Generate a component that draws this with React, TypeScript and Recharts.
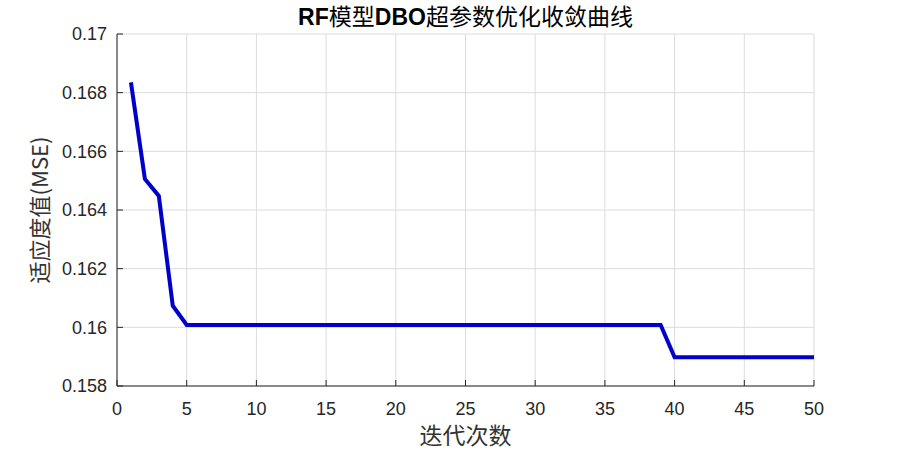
import { LineChart, Line, XAxis, YAxis, CartesianGrid } from "recharts";

// 迭代次数 1..50
const iterations = Array.from({ length: 50 }, (_, i) => i + 1);

// fitness (MSE) per iteration
const fitness = [
  0.16835, 0.16506, 0.16448, 0.16074, 0.16008, 0.16008, 0.16008, 0.16008, 0.16008, 0.16008,
  0.16008, 0.16008, 0.16008, 0.16008, 0.16008, 0.16008, 0.16008, 0.16008, 0.16008, 0.16008,
  0.16008, 0.16008, 0.16008, 0.16008, 0.16008, 0.16008, 0.16008, 0.16008, 0.16008, 0.16008,
  0.16008, 0.16008, 0.16008, 0.16008, 0.16008, 0.16008, 0.16008, 0.16008, 0.16008, 0.15898,
  0.15898, 0.15898, 0.15898, 0.15898, 0.15898, 0.15898, 0.15898, 0.15898, 0.15898, 0.15898,
];

const xTicks = [0, 5, 10, 15, 20, 25, 30, 35, 40, 45, 50];
const yTicks = [0.158, 0.16, 0.162, 0.164, 0.166, 0.168, 0.17];

const data = iterations.map((it, i) => ({ iter: it, mse: fitness[i] }));

const TICK_FONT = { fontSize: 18, fill: "#262626", fontFamily: "Liberation Sans, Arial, sans-serif" };
const LABEL_FONT = "Noto Sans CJK SC, sans-serif";

export default function App() {
  return (
    <div style={{ position: "absolute", left: 0, top: 0, width: 900, height: 450, background: "#fff" }}>
      <div
        style={{
          position: "absolute",
          top: 3,
          left: 117,
          width: 697,
          textAlign: "center",
          fontSize: 23,
          color: "#000",
          fontFamily: "Liberation Sans, Arial, Noto Sans CJK SC, sans-serif",
          lineHeight: "28px",
        }}
      >
        <b>RF</b>模型<b>DBO</b>超参数优化收敛曲线
      </div>
      <LineChart width={900} height={450} data={data} margin={{ top: 34, right: 86, bottom: 0, left: 37 }}>
        <CartesianGrid stroke="#dcdcdc" strokeWidth={1} />
        <XAxis
          dataKey="iter"
          type="number"
          domain={[0, 50]}
          ticks={xTicks}
          interval={0}
          height={64}
          tickSize={-6}
          tickMargin={22}
          tick={TICK_FONT}
          stroke="#262626"
          axisLine={{ stroke: "#262626", strokeWidth: 1.2 }}
          label={{
            value: "迭代次数",
            position: "insideBottom",
            offset: 6,
            style: { fontSize: 23, fill: "#333", fontFamily: LABEL_FONT },
          }}
        />
        <XAxis
          xAxisId="top"
          orientation="top"
          dataKey="iter"
          type="number"
          domain={[0, 50]}
          ticks={xTicks}
          height={0}
          tickSize={-6}
          tick={false}
          stroke="#262626"
        />
        <YAxis
          type="number"
          domain={[0.158, 0.17]}
          ticks={yTicks}
          interval={0}
          width={80}
          tickSize={-6}
          tickMargin={16}
          tick={TICK_FONT}
          stroke="#262626"
          tickFormatter={(v: number) => String(Number(v.toFixed(3)))}
          label={{
            value: "适应度值(MSE)",
            angle: -90,
            position: "insideLeft",
            offset: 3,
            style: { fontSize: 22, fill: "#333", fontFamily: LABEL_FONT, textAnchor: "middle" },
          }}
        />
        <YAxis
          yAxisId="right"
          orientation="right"
          type="number"
          domain={[0.158, 0.17]}
          ticks={yTicks}
          width={0}
          tickSize={-6}
          tick={false}
          stroke="#262626"
        />
        <Line
          type="linear"
          dataKey="mse"
          stroke="#0000c8"
          strokeWidth={4}
          dot={false}
          isAnimationActive={false}
        />
      </LineChart>
    </div>
  );
}
